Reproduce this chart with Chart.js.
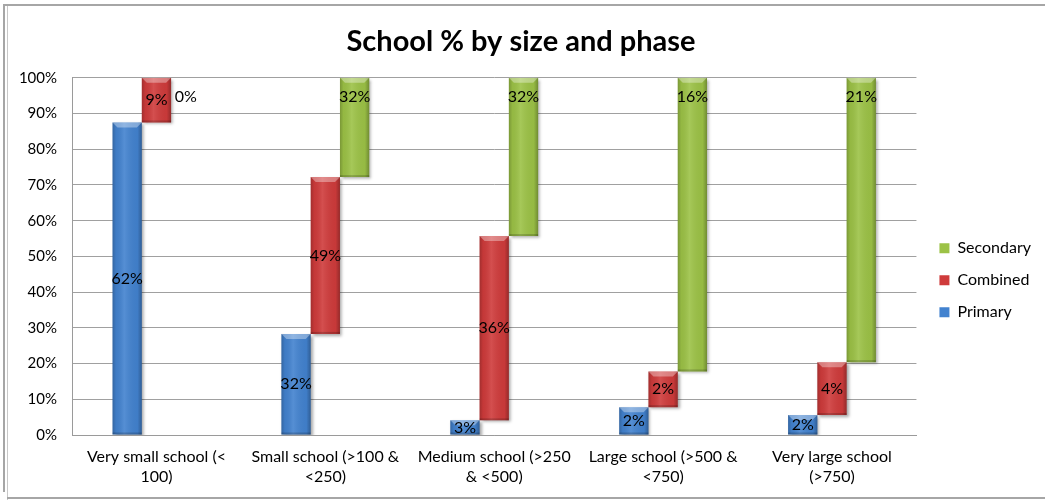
<!DOCTYPE html>
<html>
<head>
<meta charset="utf-8">
<script src="https://cdn.jsdelivr.net/npm/chart.js@4.4.1/dist/chart.umd.min.js"></script>
<style>
  html, body { margin: 0; padding: 0; background: #fff; }
  #wrap { position: relative; width: 1045px; height: 500px; overflow: hidden; }
  canvas { position: absolute; left: 0; top: 0; }
  .bl { position: absolute; background: #a6a6a6; }
</style>
</head>
<body>
<div id="wrap">
  <canvas id="c" width="1045" height="500"></canvas>
  <div class="bl" style="left:5px;top:4px;width:1040px;height:2px;"></div>
  <div class="bl" style="left:3px;top:4px;width:2px;height:488px;"></div>
  <div class="bl" style="left:7px;top:6px;width:1px;height:494px;background:#c8c8c8"></div>
  <div class="bl" style="left:7px;top:497px;width:1038px;height:2px;"></div>
</div>
<script>
// ---- data ----
const categories = [
  ["Very small school (<", "100)"],
  ["Small school (>100 &", "<250)"],
  ["Medium school (>250", "& <500)"],
  ["Large school (>500 &", "<750)"],
  ["Very large school", "(>750)"]
];
const primaryTop   = [87.5, 28.3, 4.1, 7.8, 5.6];
const combinedTop  = [100, 72.2, 55.7, 17.8, 20.4];
const secondaryTop = [100, 100, 100, 100, 100];
const primaryLabels   = [62, 32, 3, 2, 2];
const combinedLabels  = [9, 49, 36, 2, 4];
const secondaryLabels = [0, 32, 32, 16, 21];
const yTicks = [0, 10, 20, 30, 40, 50, 60, 70, 80, 90, 100];

const primaryData   = primaryTop.map(v => [0, v]);
const combinedData  = combinedTop.map((v, i) => [primaryTop[i], v]);
const secondaryData = secondaryTop.map((v, i) => [combinedTop[i], v]);

const FONT = "Lato, 'Open Sans', sans-serif";

const legendShift = {
  id: 'legendShift',
  beforeDraw(chart) {
    if (chart.legend) chart.legend.left += 7;
  }
};

const bevelPlugin = {
  id: 'bevel',
  beforeDatasetsDraw(chart) {
    const ctx = chart.ctx;
    ctx.save();
    ctx.shadowColor = 'rgba(0,0,0,0.35)';
    ctx.shadowBlur = 3;
    ctx.shadowOffsetX = 2;
    ctx.shadowOffsetY = 2;
  },
  afterDatasetsDraw(chart) {
    const ctx = chart.ctx;
    ctx.restore();
    ctx.save();
    chart.data.datasets.forEach((ds, di) => {
      const meta = chart.getDatasetMeta(di);
      meta.data.forEach((bar, i) => {
        const left = bar.x - bar.width / 2;
        const top = Math.min(bar.y, bar.base);
        const h = Math.abs(bar.base - bar.y);
        if (h < 0.5) return;
        const g = ctx.createLinearGradient(left, 0, left + bar.width, 0);
        g.addColorStop(0, 'rgba(0,0,0,0.22)');
        g.addColorStop(0.12, 'rgba(0,0,0,0.05)');
        g.addColorStop(0.4, 'rgba(255,255,255,0.10)');
        g.addColorStop(0.85, 'rgba(0,0,0,0.04)');
        g.addColorStop(1, 'rgba(0,0,0,0.28)');
        ctx.fillStyle = g;
        ctx.fillRect(left, top, bar.width, h);
        const cap = Math.min(5, h / 2);
        ctx.fillStyle = 'rgba(255,255,255,0.35)';
        ctx.beginPath();
        ctx.moveTo(left, top);
        ctx.lineTo(left + bar.width, top);
        ctx.lineTo(left + bar.width - 5, top + cap);
        ctx.lineTo(left + 5, top + cap);
        ctx.closePath();
        ctx.fill();
        ctx.fillStyle = 'rgba(0,0,0,0.18)';
        ctx.fillRect(left, top + h - 2, bar.width, 2);
      });
    });
    const labelSets = [primaryLabels, combinedLabels, secondaryLabels];
    ctx.fillStyle = '#000';
    ctx.font = "16px " + FONT;
    ctx.textAlign = 'center';
    ctx.textBaseline = 'middle';
    chart.data.datasets.forEach((ds, di) => {
      const meta = chart.getDatasetMeta(di);
      meta.data.forEach((bar, i) => {
        const top = Math.min(bar.y, bar.base);
        const bottom = Math.max(bar.y, bar.base);
        let y = (top + bottom) / 2;
        if (di === 2) y = top + 19;
        ctx.fillText(labelSets[di][i] + '%', bar.x, y);
      });
    });
    ctx.restore();
  }
};

new Chart(document.getElementById('c'), {
  type: 'bar',
  data: {
    labels: categories,
    datasets: [
      { label: 'Primary', data: primaryData, backgroundColor: '#4282cf', borderWidth: 0 },
      { label: 'Combined', data: combinedData, backgroundColor: '#cf3b3b', borderWidth: 0 },
      { label: 'Secondary', data: secondaryData, backgroundColor: '#9cc246', borderWidth: 0 }
    ]
  },
  options: {
    responsive: false,
    animation: false,
    layout: { padding: { left: 8, right: 11, top: 8, bottom: 8 } },
    datasets: { bar: { categoryPercentage: 0.52, barPercentage: 1.0, grouped: true } },
    plugins: {
      title: {
        display: true,
        text: 'School % by size and phase',
        color: '#000',
        font: { family: FONT, size: 29, weight: 'bold' },
        padding: { top: 16, bottom: 19 }
      },
      legend: {
        position: 'right',
        reverse: true,
        title: { display: true, text: ' ', font: { size: 12 }, padding: { top: 0, bottom: 46 } },
        labels: {
          color: '#000',
          font: { family: FONT, size: 16 },
          boxWidth: 10,
          boxHeight: 10,
          padding: 16
        }
      },
      tooltip: { enabled: false }
    },
    scales: {
      x: {
        grid: { display: false, drawTicks: false },
        border: { display: true, color: '#9a9a9a', width: 1 },
        ticks: { color: '#000', font: { family: FONT, size: 16, lineHeight: 1.25 }, padding: 12, maxRotation: 0, autoSkip: false },
        afterFit(scale) { scale.height = 57; }
      },
      y: {
        min: 0, max: 100,
        afterBuildTicks(scale) { scale.ticks = yTicks.map(v => ({ value: v })); },
        grid: { color: '#a0a0a0', drawTicks: false },
        border: { display: true, color: '#9a9a9a', width: 1 },
        ticks: { color: '#000', font: { family: FONT, size: 15 }, padding: 15, callback: v => v + '%' },
        afterFit(scale) { scale.width = 64; }
      }
    }
  },
  plugins: [bevelPlugin, legendShift]
});
</script>
</body>
</html>
